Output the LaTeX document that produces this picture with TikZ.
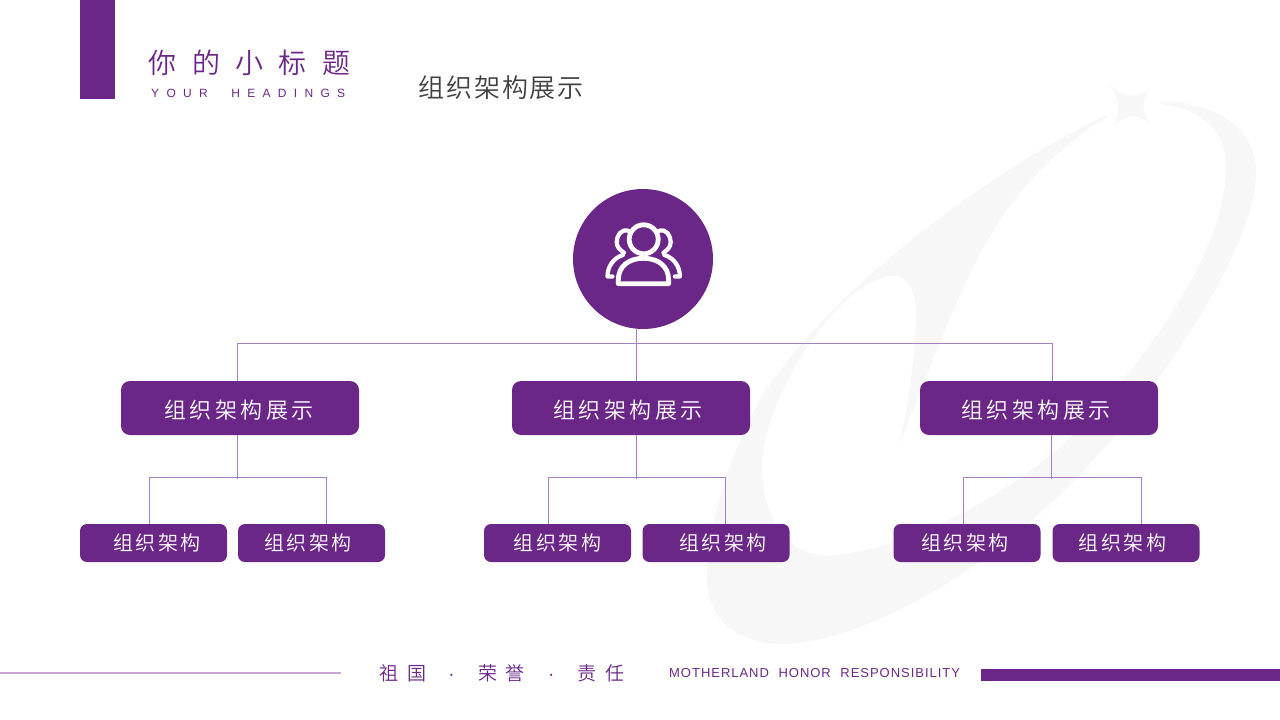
\documentclass[tikz,border=0pt]{standalone}
\usepackage{fontspec}
\setmainfont{Liberation Sans}
\newcommand{\cjkname}{Noto Sans CJK SC DemiLight}
\newfontfamily\cjkHead[LetterSpace=55]{\cjkname}
\newfontfamily\cjkTitle[LetterSpace=7.5]{\cjkname}
\newfontfamily\cjkBig[LetterSpace=15.5]{\cjkname}
\newfontfamily\cjkSmall[LetterSpace=12.5]{\cjkname}
\newfontfamily\cjkFoot[LetterSpace=45]{\cjkname}
\newfontfamily\latHead[LetterSpace=61]{Liberation Sans}
\newfontfamily\latFoot[LetterSpace=7.5]{Liberation Sans}
\newcommand{\footdot}{{\rmfamily ·}}
\definecolor{brand}{HTML}{6B2787}
\definecolor{linkc}{HTML}{A77FC0}
\definecolor{softl}{HTML}{C9A8D8}
\definecolor{wmark}{HTML}{F7F7F7}
\definecolor{titlec}{HTML}{404040}
\tikzset{
  bigbox/.style={fill=brand,rounded corners=9pt,minimum width=238pt,minimum height=54pt,inner sep=0pt,text=white,text height=20.8pt,text depth=0pt,font=\cjkBig\fontsize{22}{24}\selectfont},
  smallbox/.style={fill=brand,rounded corners=7pt,minimum width=147pt,minimum height=38pt,inner sep=0pt,text=white,text height=15.2pt,text depth=0pt,font=\cjkSmall\fontsize{20}{22}\selectfont},
  conn/.style={draw=linkc,line width=0.9pt},
  icon/.style={draw=white,line width=4.8pt,line cap=round,line join=round},
  iconthin/.style={draw=white,line width=4.2pt,line cap=round,line join=round},
  plain/.style={inner sep=0pt,anchor=center}
}
\begin{document}
\begin{tikzpicture}[x=1pt,y=-1pt]
\useasboundingbox (0,0) rectangle (1280,720);
% watermark
\fill[wmark] (1107,115) .. controls (1000,165) and (840,280) .. (765,391)
 .. controls (735,440) and (707,520) .. (707,579)
 .. controls (707,625) and (745,644) .. (781,644)
 .. controls (860,644) and (1000,570) .. (1105,447)
 .. controls (1190,345) and (1256,235) .. (1256,172)
 .. controls (1256,125) and (1210,100) .. (1160,102)
 -- (1160,104)
 .. controls (1200,108) and (1226,130) .. (1226,165)
 .. controls (1226,240) and (1170,325) .. (1105,402)
 .. controls (1030,490) and (900,555) .. (826,555)
 .. controls (785,555) and (762,515) .. (762,466)
 .. controls (762,400) and (840,276) .. (894,276)
 .. controls (910,276) and (916,295) .. (916,312)
 .. controls (916,350) and (908,410) .. (899,445)
 .. controls (925,385) and (955,290) .. (1000,220)
 .. controls (1030,175) and (1075,135) .. (1107,117) -- cycle;
\fill[wmark] (1108,83) .. controls (1122,97) and (1135,100) .. (1149,89) .. controls (1140,104) and (1142,116) .. (1155,128) .. controls (1140,113) and (1126,113) .. (1114,126) .. controls (1121,112) and (1120,98) .. (1108,83) -- cycle;
% header
\fill[brand] (80,0) rectangle (115,99);
\node[plain,anchor=west,text=brand,font=\cjkHead\fontsize{28}{30}\selectfont] (head) at (148.5,63) {你的小标题};
\node[plain,anchor=west,text=brand,font=\latHead\fontsize{12}{14}\selectfont] (headen) at (151,93.5) {YOUR\hspace{23.5pt}HEADINGS};
\node[plain,anchor=west,text=titlec,font=\cjkTitle\fontsize{26}{28}\selectfont] (title) at (418,87.7) {组织架构展示};
% nodes
\node[fill=brand,circle,minimum size=140pt,inner sep=0pt] (root) at (643,259) {};
\node[bigbox] (b1) at (240,408) {组织架构展示\kern2pt};
\node[bigbox] (b2) at (631,408) {组织架构展示\kern6pt};
\node[bigbox] (b3) at (1039,408) {组织架构展示\kern6pt};
\node[smallbox] (c1) at (153.5,543) {\kern7pt 组织架构};
\node[smallbox] (c2) at (311.5,543) {组织架构\kern7pt};
\node[smallbox] (c3) at (557.5,543) {组织架构};
\node[smallbox] (c4) at (716,543) {\kern14pt 组织架构};
\node[smallbox] (c5) at (967,543) {组织架构\kern4pt};
\node[smallbox] (c6) at (1126,543) {组织架构\kern7pt};
% connector junctions
\coordinate (busL) at (237,343);
\coordinate (busM) at (636.5,343);
\coordinate (busR) at (1052,343);
\coordinate (j1) at (237,479);
\coordinate (j2) at (636.5,479);
\coordinate (j3) at (1051,479);
\coordinate (l1) at (149,477);
\coordinate (r1) at (326.5,477);
\coordinate (l2) at (548,477);
\coordinate (r2) at (725.5,477);
\coordinate (l3) at (963,477);
\coordinate (r3) at (1141,477);
\draw[conn] (busL) -- (busR);
\draw[conn] (busL) -- (busL |- b1.north);
\draw[conn] (busM |- root.south) -- (busM |- b2.north);
\draw[conn] (busR) -- (busR |- b3.north);
\draw[conn] (j1 |- b1.south) -- (j1);
\draw[conn] (j2 |- b2.south) -- (j2);
\draw[conn] (j3 |- b3.south) -- (j3);
\draw[conn] (l1) -- (r1);
\draw[conn] (l2) -- (r2);
\draw[conn] (l3) -- (r3);
\draw[conn] (l1) -- (l1 |- c1.north);
\draw[conn] (r1) -- (r1 |- c2.north);
\draw[conn] (l2) -- (l2 |- c3.north);
\draw[conn] (r2) -- (r2 |- c4.north);
\draw[conn] (l3) -- (l3 |- c5.north);
\draw[conn] (r3) -- (r3 |- c6.north);
% icon
\draw[icon] (643.7,239.3) circle (14.5);
\draw[icon] (618.3,283.7) -- (668.6,283.7) -- (668.6,280) .. controls (668.6,266) and (658,258.3) .. (643.5,258.3) .. controls (629,258.3) and (618.3,266) .. (618.3,280) -- cycle;
\draw[iconthin] (629,231) .. controls (621,228) and (616.7,236) .. (616.7,242) .. controls (616.7,247) and (620,250) .. (624,252.7);
\draw[iconthin] (658.4,231) .. controls (666.4,228) and (670.7,236) .. (670.7,242) .. controls (670.7,247) and (667.4,250) .. (663.4,252.7);
\draw[iconthin] (623,255) .. controls (613,258) and (607.5,267) .. (607.5,276.5) -- (612.5,276.5);
\draw[iconthin] (664.4,255) .. controls (674.4,258) and (679.9,267) .. (679.9,276.5) -- (674.9,276.5);
% footer
\coordinate (fl0) at (0,673);
\coordinate (fl1) at (341,673);
\draw[draw=softl,line width=1.3pt] (fl0) -- (fl1);
\node[plain,anchor=west,text=brand,font=\cjkFoot\fontsize{19}{21}\selectfont] (foot) at (379.5,673) {祖国\hspace{22pt}\footdot\hspace{23.5pt}荣誉\hspace{23.5pt}\footdot\hspace{23pt}责任};
\node[plain,anchor=west,text=brand,font=\latFoot\fontsize{13}{15}\selectfont] (footen) at (669,673.5) {MOTHERLAND\hspace{5pt} HONOR\hspace{5pt} RESPONSIBILITY};
\fill[brand] (981,669) rectangle (1280,681);
\end{tikzpicture}
\end{document}
